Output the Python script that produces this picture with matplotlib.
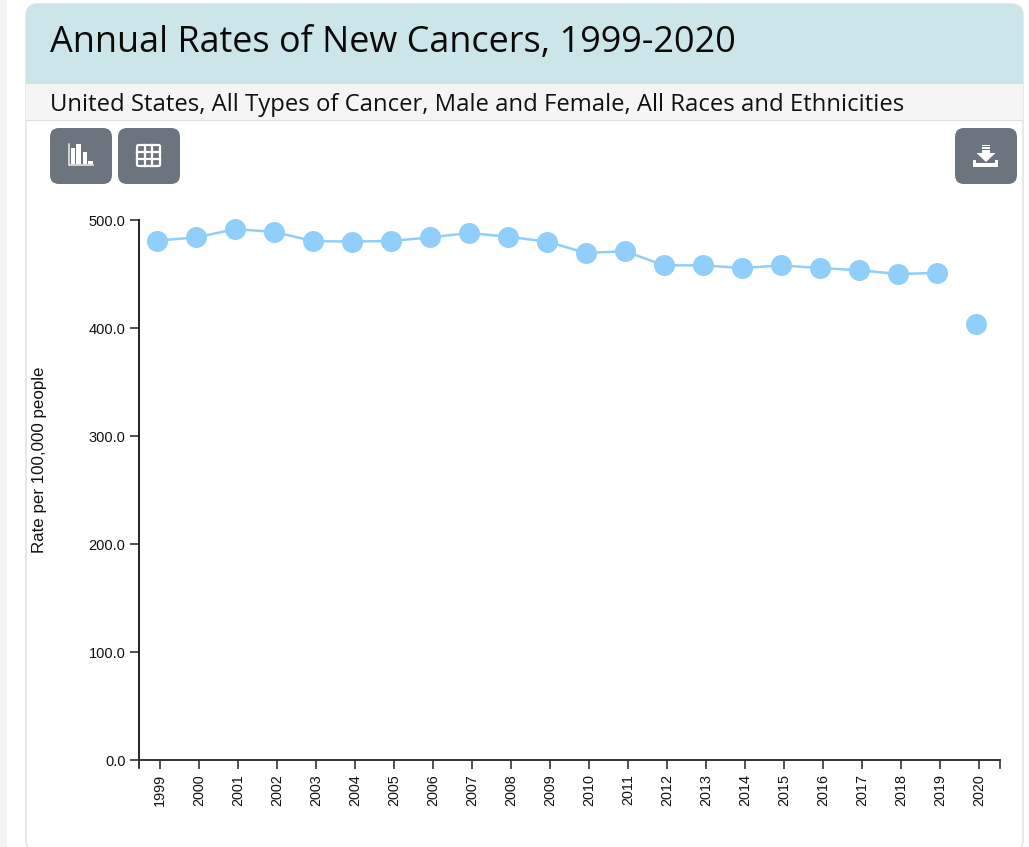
import matplotlib
matplotlib.use('Agg')
import matplotlib.pyplot as plt
from matplotlib.patches import FancyBboxPatch, Rectangle, Polygon
from matplotlib.transforms import ScaledTranslation

W, H = 1029, 847

years = list(range(1999, 2021))
rates = [481.0, 483.8, 491.5, 489.0, 480.5, 480.0, 480.6, 483.8, 488.0, 484.5, 480.0, 469.5,
         471.0, 458.0, 458.0, 455.5, 458.0, 455.5, 453.5, 450.0, 451.0, 403.5]
# 2020 is not joined to the rest of the line
line_years = years[:-1]
line_rates = rates[:-1]
y_ticks = [0, 100, 200, 300, 400, 500]

title = 'Annual Rates of New Cancers, 1999-2020'
subtitle = 'United States, All Types of Cancer, Male and Female, All Races and Ethnicities'
y_label = 'Rate per 100,000 people'

BLUE = '#90cefb'
BTN = '#6c757d'

fig = plt.figure(figsize=(W / 100, H / 100), dpi=100, facecolor='white')

# page furniture, drawn in pixel coordinates with y going down
bg = fig.add_axes([0, 0, 1, 1])
bg.set_xlim(0, W)
bg.set_ylim(H, 0)
bg.axis('off')

bg.add_patch(Rectangle((0, 0), 7, H, fc='#f4f4f4', ec='none'))
bg.add_patch(FancyBboxPatch((26, 4), 997, 848, boxstyle='round,pad=0,rounding_size=12',
                            fc='white', ec='#e4e4e4', lw=1.2))
bg.add_patch(FancyBboxPatch((26, 4), 997, 100, boxstyle='round,pad=0,rounding_size=12',
                            fc='#cce5e8', ec='none'))
bg.add_patch(Rectangle((26, 84), 997, 36, fc='#f5f5f5', ec='none'))
bg.add_patch(Rectangle((26, 120), 997, 1.5, fc='#dedede', ec='none'))

bg.text(50, 43, title, family='Open Sans', fontsize=25.9, va='center', ha='left', color='#0a0a0a')
bg.text(50, 105, subtitle, family='Open Sans', fontsize=17.2, va='center', ha='left', color='#111111')

for bx in [50, 118, 955]:
    wid = 62
    bg.add_patch(FancyBboxPatch((bx, 128), wid, 56, boxstyle='round,pad=0,rounding_size=9',
                                fc=BTN, ec='none'))

# bar chart icon
bg.plot([68.5, 68.5, 93], [144, 165.5, 165.5], color='#eef3e8', lw=1.1)
for bx, top, wid in [(71, 148, 4.4), (76, 144, 5.4), (83, 152, 4), (88, 161, 5)]:
    bg.add_patch(Rectangle((bx, top), wid, 164.5 - top, fc='white', ec='none'))

# table icon
bg.add_patch(FancyBboxPatch((137, 145), 23, 21, boxstyle='round,pad=0,rounding_size=1.5',
                            fc=BTN, ec='white', lw=1.6))
for gx in [144.7, 152.3]:
    bg.plot([gx, gx], [145, 166], color='white', lw=1.6)
for gy in [152, 159]:
    bg.plot([137, 160], [gy, gy], color='white', lw=1.6)

# download icon
bg.add_patch(Polygon([(982, 150), (990, 150), (990, 153), (995.5, 153), (986, 162), (976.5, 153), (982, 153)],
                     fc='white', ec='none'))
for gy in [145, 147.5]:
    bg.add_patch(Rectangle((982, gy), 8, 1.5, fc='white', ec='none'))
bg.add_patch(Polygon([(973, 160), (976, 160), (976, 163), (995, 163), (995, 160), (998, 160),
                      (998, 167), (973, 167)], fc='white', ec='none'))

# chart, spines 139..1000 px wide, 220..760 px tall
ax = fig.add_axes([139 / W, 1 - 760 / H, 861 / W, 540 / H])
ax.patch.set_alpha(0)

# the points sit 3 px left of their ticks
shift = ScaledTranslation(-3 / 100, 0, fig.dpi_scale_trans)
ax.plot(line_years, line_rates, color=BLUE, lw=1.8, transform=ax.transData + shift, clip_on=False, zorder=2)
ax.plot(years, rates, ls='none', marker='o', ms=15.1, mfc=BLUE, mec='none',
        transform=ax.transData + shift, clip_on=False, zorder=3)

ax.set_xlim(1999 - 21 / 39.0, 2020 + 21 / 39.0)
ax.set_ylim(0, 500)

ax.spines['top'].set_visible(False)
ax.spines['right'].set_visible(False)
ax.spines['left'].set_linewidth(1.3)
ax.spines['left'].set_color('#111111')
ax.spines['bottom'].set_linewidth(1.4)
ax.spines['bottom'].set_color('#333333')

ax.set_xticks(years)
ax.set_xticklabels([str(y) for y in years], rotation=90, family='Liberation Sans', fontsize=10.4, color='#111111')
ax.set_yticks(y_ticks)
ax.set_yticklabels(['%.1f' % v for v in y_ticks], family='Liberation Sans', fontsize=10.5, color='#111111')
ax.tick_params(axis='x', length=6.2, width=1.2, color='#333333', pad=4)
ax.tick_params(axis='y', length=6.2, width=1.2, color='#333333', pad=3.5)

# end caps of the x axis hang below the line
ax.plot([0, 0], [0, -8 / 540], transform=ax.transAxes, color='#111111', lw=1.2, clip_on=False)
ax.plot([1, 1], [0, -8 / 540], transform=ax.transAxes, color='#333333', lw=1.2, clip_on=False)

bg.text(40, 460, y_label, rotation=90, family='Liberation Sans', fontsize=12.2, va='center', ha='center', color='#111111')

fig.savefig('out.png', dpi=100)
